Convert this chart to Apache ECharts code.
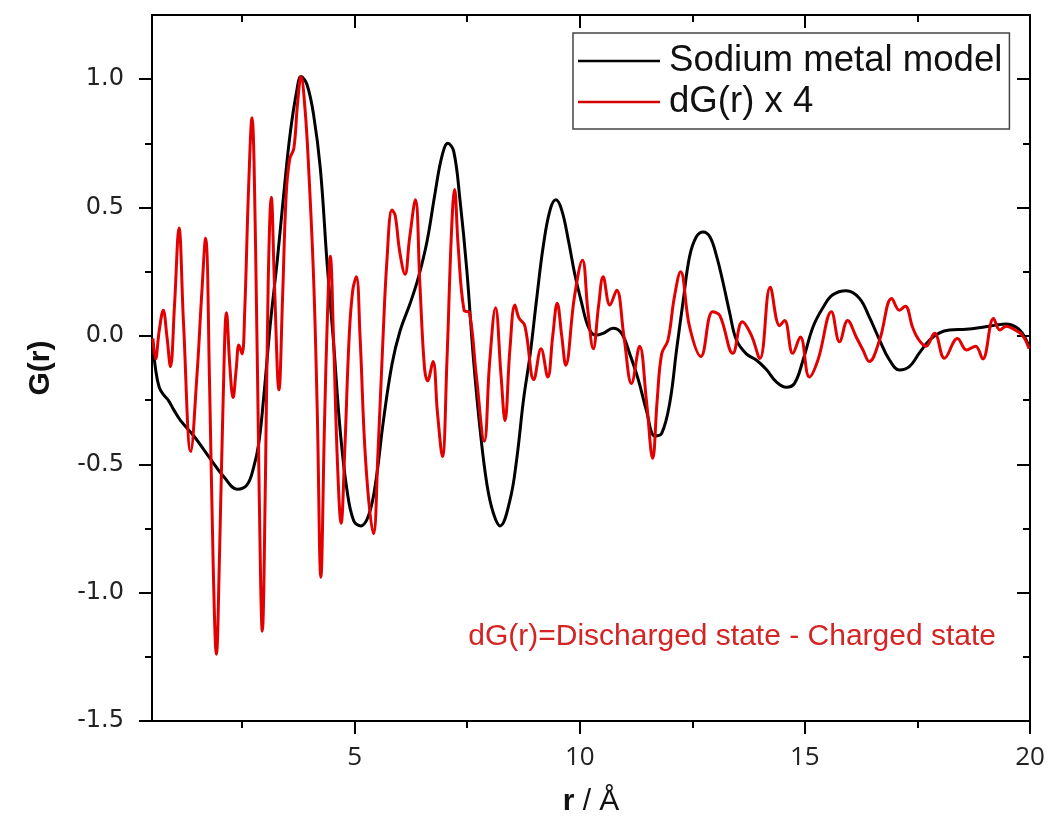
<!DOCTYPE html>
<html>
<head>
<meta charset="utf-8">
<title>G(r) – sodium metal model vs dG(r)</title>
<script src="https://cdn.jsdelivr.net/npm/echarts@6/dist/echarts.min.js"></script>
<style>
  html, body { margin: 0; padding: 0; background: #ffffff; }
  #chart { width: 1048px; height: 834px; }
</style>
</head>
<body>
<div id="chart"></div>
<script>
// Sodium metal model: r (Å) and G(r)
const modelR = [0.52, 0.58, 0.66, 0.76, 0.86, 0.99, 1.135, 1.43, 1.80, 2.10, 2.39, 2.61, 2.76, 2.87, 2.98,
  3.13, 3.28, 3.43, 3.57, 3.72, 3.81, 3.94, 4.09, 4.24, 4.39, 4.53, 4.68, 4.83, 4.98, 5.14, 5.31, 5.46,
  5.64, 5.83, 6.01, 6.24, 6.42, 6.61, 6.79, 6.94, 7.07, 7.20, 7.34, 7.49, 7.64, 7.79, 7.94, 8.08, 8.23,
  8.45, 8.60, 8.75, 8.90, 9.04, 9.19, 9.34, 9.47, 9.60, 9.75, 9.89, 10.04, 10.19, 10.34, 10.52, 10.74,
  10.93, 11.11, 11.30, 11.48, 11.67, 11.82, 12.00, 12.15, 12.30, 12.44, 12.59, 12.74, 12.89, 13.04,
  13.18, 13.33, 13.48, 13.70, 13.92, 14.14, 14.37, 14.59, 14.77, 14.96, 15.18, 15.40, 15.62, 15.92,
  16.21, 16.43, 16.66, 16.88, 17.10, 17.32, 17.54, 17.77, 17.99, 18.21, 18.58, 18.95, 19.24, 19.47,
  19.69, 19.83, 19.98];
const modelG = [-0.03, -0.13, -0.20, -0.23, -0.25, -0.29, -0.33, -0.39, -0.48, -0.55, -0.597, -0.58, -0.51, -0.42, -0.24,
  0.05, 0.29, 0.56, 0.79, 0.96, 1.01, 0.98, 0.86, 0.65, 0.28, -0.02, -0.37, -0.60, -0.72, -0.74, -0.70, -0.58,
  -0.33, -0.11, 0.02, 0.13, 0.23, 0.37, 0.56, 0.70, 0.75, 0.72, 0.53, 0.26, -0.09, -0.37, -0.58, -0.69, -0.74,
  -0.64, -0.48, -0.25, -0.07, 0.14, 0.35, 0.49, 0.53, 0.49, 0.37, 0.24, 0.13, 0.035, 0.003, 0.01, 0.03,
  0.01, -0.07, -0.17, -0.29, -0.39, -0.38, -0.26, -0.055, 0.14, 0.31, 0.386, 0.405, 0.386, 0.31,
  0.21, 0.09, -0.016, -0.07, -0.094, -0.13, -0.18, -0.20, -0.185, -0.094, 0.035, 0.11, 0.16, 0.176,
  0.147, 0.074, -0.016, -0.094, -0.133, -0.12, -0.067, -0.016, 0.012, 0.023, 0.026, 0.034, 0.042, 0.046,
  0.034, 0.011, -0.04];

// Difference curve dG(r) = discharged - charged, scaled by 4
const diffR = [0.52, 0.58, 0.66, 0.75, 0.83, 0.91, 1.00, 1.10, 1.20, 1.36, 1.50, 1.60, 1.69, 1.78, 1.86, 1.93,
  2.00, 2.08, 2.155, 2.23, 2.30, 2.37, 2.43, 2.50, 2.56, 2.64, 2.72, 2.80, 2.88, 2.95, 3.02, 3.08, 3.15,
  3.22, 3.32, 3.40, 3.48, 3.56, 3.65, 3.73, 3.81, 3.90, 3.98, 4.09, 4.17, 4.25, 4.33, 4.40, 4.46, 4.53,
  4.62, 4.70, 4.78, 4.88, 4.96, 5.04, 5.12, 5.25, 5.42, 5.52, 5.62, 5.72, 5.83, 5.90, 6.00, 6.12, 6.22,
  6.35, 6.45, 6.55, 6.62, 6.74, 6.84, 6.95, 7.05, 7.15, 7.22, 7.30, 7.43, 7.55, 7.70, 7.88, 8.00, 8.13,
  8.25, 8.34, 8.45, 8.56, 8.65, 8.78, 8.98, 9.14, 9.29, 9.40, 9.50, 9.60, 9.69, 9.88, 10.06, 10.18,
  10.30, 10.42, 10.52, 10.67, 10.82, 10.98, 11.15, 11.33, 11.48, 11.62, 11.72, 11.82, 11.96, 12.10,
  12.24, 12.44, 12.69, 12.95, 13.11, 13.40, 13.61, 13.81, 14.00, 14.23, 14.44, 14.55, 14.73, 14.90,
  15.10, 15.29, 15.59, 15.77, 15.95, 16.14, 16.29, 16.43, 16.66, 16.93, 17.10, 17.23, 17.39, 17.51,
  17.69, 17.88, 18.10, 18.39, 18.59, 18.79, 18.95, 19.19, 19.33, 19.47, 19.65, 19.83, 19.98];
const diffG = [-0.01, -0.09, 0.02, 0.10, 0.0, -0.12, 0.12, 0.42, 0.05, -0.45, -0.15, 0.15, 0.38, -0.2, -0.9, -1.24,
  -0.85, -0.25, 0.09, -0.12, -0.24, -0.13, -0.035, -0.07, 0.1, 0.55, 0.85, 0.35, -0.6, -1.15, -0.55, 0.2, 0.54,
  0.2, -0.21, 0.15, 0.55, 0.69, 0.73, 0.9, 1.01, 0.88, 0.65, 0.22, -0.29, -0.94, -0.35, 0.1, 0.31, 0.0,
  -0.5, -0.73, -0.45, 0.0, 0.18, 0.23, 0.0, -0.5, -0.77, -0.45, -0.05, 0.3, 0.49, 0.47, 0.33, 0.24, 0.38,
  0.53, 0.2, -0.12, -0.175, -0.10, -0.3, -0.47, -0.1, 0.4, 0.57, 0.35, 0.10, 0.09, -0.15, -0.41, -0.1, 0.11,
  -0.15, -0.33, -0.05, 0.12, 0.07, 0.04, -0.17, -0.05, -0.16, 0.0, 0.127, 0.0, -0.114, 0.15, 0.295, 0.1,
  -0.05, 0.12, 0.23, 0.12, 0.178, 0.0, -0.185, -0.04, -0.25, -0.477, -0.25, -0.07, -0.016, 0.15,
  0.25, 0.035, -0.08, 0.094, 0.08, -0.068, 0.055, 0.003, -0.088, 0.19, 0.04, 0.06, -0.068, -0.004,
  -0.16, -0.094, 0.094, -0.023, 0.06, -0.004, -0.055, -0.10, -0.016, 0.146, 0.10, 0.116, 0.035, -0.01,
  -0.04, 0.01, -0.087, -0.01, -0.055, -0.04, -0.09, 0.068, 0.023, 0.038, 0.025, 0.003, -0.05];

// Tick positions
const xMajorTicks = [5, 10, 15, 20];
const xMinorTicks = [2.5, 7.5, 12.5, 17.5];
const yMajorTicks = [-1.5, -1.0, -0.5, 0.0, 0.5, 1.0];
const yMinorTicks = [-1.25, -0.75, -0.25, 0.25, 0.75];

const X_MIN = 0.5, X_MAX = 20, Y_MIN = -1.5, Y_MAX = 1.25;

const frameLine = { show: true, onZero: false, lineStyle: { color: '#000', width: 2 } };
const hiddenLine = { show: false, onZero: false };
const tickStyle = { color: '#000', width: 2 };

function xAxisDef(position, ticks, len, inside, showLine, extra) {
  return Object.assign({
    type: 'value', position: position, min: X_MIN, max: X_MAX,
    axisLine: showLine ? frameLine : hiddenLine,
    axisTick: { show: true, inside: inside, length: len, customValues: ticks, lineStyle: tickStyle },
    axisLabel: { show: false },
    splitLine: { show: false }
  }, extra || {});
}
function yAxisDef(position, ticks, len, inside, showLine, extra) {
  return Object.assign({
    type: 'value', position: position, min: Y_MIN, max: Y_MAX,
    axisLine: showLine ? frameLine : hiddenLine,
    axisTick: { show: true, inside: inside, length: len, customValues: ticks, lineStyle: tickStyle },
    axisLabel: { show: false },
    splitLine: { show: false }
  }, extra || {});
}

const chart = echarts.init(document.getElementById('chart'), null, { renderer: 'canvas' });

chart.setOption({
  animation: false,
  backgroundColor: '#ffffff',
  grid: { left: 152, right: 18, top: 15, bottom: 113, containLabel: false },
  legend: {
    orient: 'vertical',
    left: 573, top: 33,
    padding: [9, 7, 8, 5],
    itemGap: 3,
    icon: 'rect',
    itemWidth: 82, itemHeight: 2.5,
    borderColor: '#444', borderWidth: 1.5,
    backgroundColor: '#ffffff',
    textStyle: { fontFamily: 'Liberation Sans, Arial, sans-serif', fontSize: 36.6, color: '#111',
      lineHeight: 38, padding: [0, 0, 0, 4] },
    data: ['Sodium metal model', 'dG(r) x 4']
  },
  xAxis: [
    xAxisDef('bottom', xMajorTicks, 13, false, true, {
      name: '{b|r} / Å',
      nameLocation: 'middle',
      nameGap: 66,
      nameTextStyle: {
        fontFamily: 'Liberation Sans, Arial, sans-serif', fontSize: 30, color: '#111',
        rich: { b: { fontFamily: 'Liberation Sans, Arial, sans-serif', fontSize: 30, fontWeight: 'bold', color: '#111' } }
      },
      axisLabel: {
        show: true, customValues: xMajorTicks, margin: 24,
        fontFamily: 'Open Sans, sans-serif', fontSize: 26, color: '#222'
      }
    }),
    xAxisDef('bottom', xMinorTicks, 7, false, false),
    xAxisDef('top', xMajorTicks, 13, true, true),
    xAxisDef('top', xMinorTicks, 7, true, false)
  ],
  yAxis: [
    yAxisDef('left', yMajorTicks, 13, false, true, {
      name: 'G(r)',
      nameLocation: 'middle',
      nameGap: 96,
      nameRotate: 90,
      nameTextStyle: { fontFamily: 'Liberation Sans, Arial, sans-serif', fontSize: 30, fontWeight: 'bold', color: '#111' },
      axisLabel: {
        show: true, customValues: yMajorTicks, margin: 28,
        fontFamily: 'DejaVu Sans, sans-serif', fontSize: 24, color: '#222',
        formatter: function (v) { return v.toFixed(1); }
      }
    }),
    yAxisDef('left', yMinorTicks, 7, false, false),
    yAxisDef('right', yMajorTicks, 13, true, true),
    yAxisDef('right', yMinorTicks, 7, true, false)
  ],
  graphic: [{
    type: 'text',
    right: 52, top: 622,
    style: {
      text: 'dG(r)=Discharged state - Charged state',
      fontFamily: 'Liberation Sans, Arial, sans-serif',
      fontSize: 30,
      fill: '#d42424'
    }
  }],
  series: [
    {
      name: 'Sodium metal model',
      type: 'line',
      xAxisIndex: 0, yAxisIndex: 0,
      data: modelR.map((r, i) => [r, modelG[i]]),
      showSymbol: false, symbol: 'none',
      smooth: 0.4,
      lineStyle: { color: '#000000', width: 3 },
      itemStyle: { color: '#000000' },
      z: 2
    },
    {
      name: 'dG(r) x 4',
      type: 'line',
      xAxisIndex: 0, yAxisIndex: 0,
      data: diffR.map((r, i) => [r, diffG[i]]),
      showSymbol: false, symbol: 'none',
      smooth: 0.4,
      lineStyle: { color: '#e30000', width: 3 },
      itemStyle: { color: '#d40000' },
      z: 3
    }
  ]
});
</script>
</body>
</html>
